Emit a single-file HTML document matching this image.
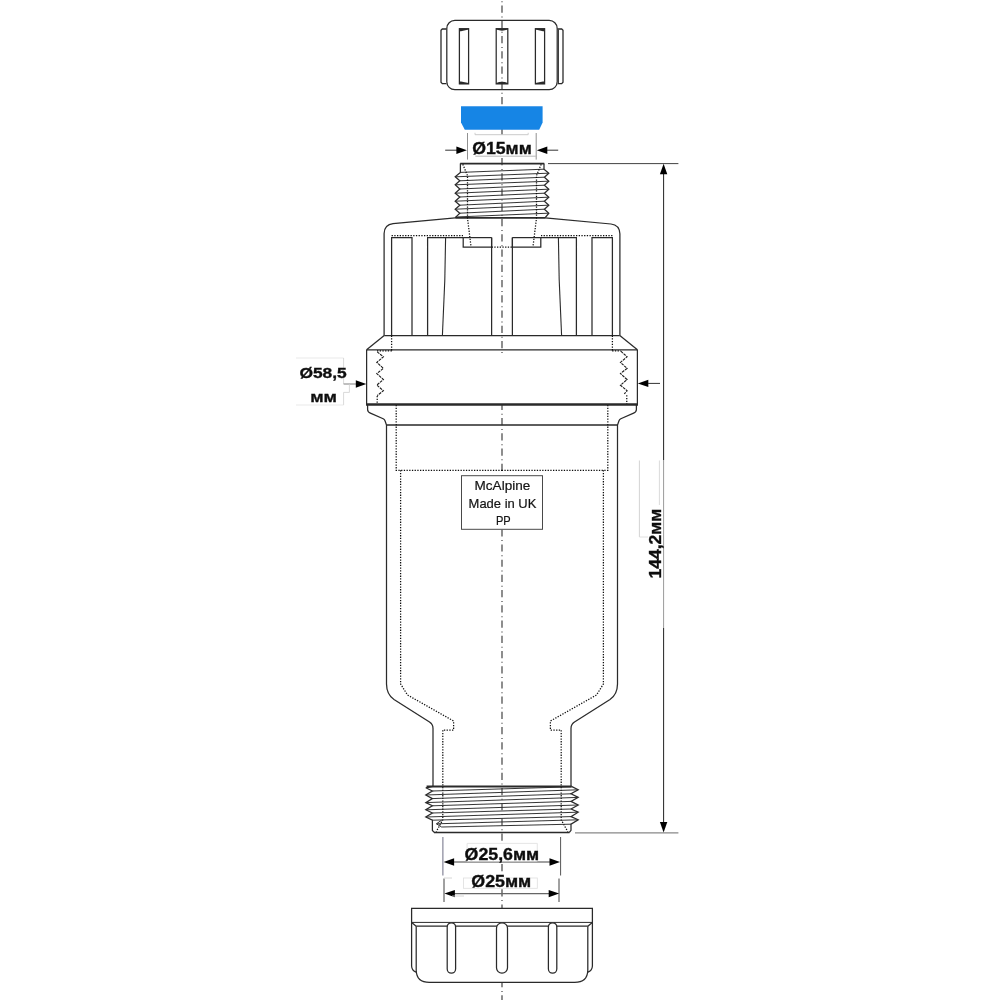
<!DOCTYPE html>
<html lang="en"><head><meta charset="utf-8"><title>Air admittance valve drawing</title>
<style>
html,body{margin:0;padding:0;background:#fff;}
body{width:1000px;height:1000px;overflow:hidden;}
svg{display:block;}
path,polygon,polyline{stroke-linejoin:miter;stroke-miterlimit:2.2;}
text{font-family:"Liberation Sans",sans-serif;fill:#111;}
</style></head>
<body>
<svg width="1000" height="1000" viewBox="0 0 1000 1000">
<defs><filter id="soft" x="0" y="0" width="1000" height="1000" filterUnits="userSpaceOnUse"><feGaussianBlur stdDeviation="0.35"/></filter></defs>
<rect width="1000" height="1000" fill="#ffffff"/>
<g filter="url(#soft)">
<line x1="502.00" y1="1.25" x2="502.00" y2="2.25" stroke="#3a3a3a" stroke-width="1.15" />
<line x1="502.00" y1="5.60" x2="502.00" y2="12.80" stroke="#3a3a3a" stroke-width="1.15" />
<line x1="502.00" y1="16.50" x2="502.00" y2="17.50" stroke="#3a3a3a" stroke-width="1.15" />
<line x1="502.00" y1="20.84" x2="502.00" y2="28.04" stroke="#3a3a3a" stroke-width="1.15" />
<line x1="502.00" y1="31.74" x2="502.00" y2="32.74" stroke="#3a3a3a" stroke-width="1.15" />
<line x1="502.00" y1="36.09" x2="502.00" y2="43.29" stroke="#3a3a3a" stroke-width="1.15" />
<line x1="502.00" y1="46.99" x2="502.00" y2="47.99" stroke="#3a3a3a" stroke-width="1.15" />
<line x1="502.00" y1="51.33" x2="502.00" y2="58.53" stroke="#3a3a3a" stroke-width="1.15" />
<line x1="502.00" y1="62.23" x2="502.00" y2="63.23" stroke="#3a3a3a" stroke-width="1.15" />
<line x1="502.00" y1="66.58" x2="502.00" y2="73.78" stroke="#3a3a3a" stroke-width="1.15" />
<line x1="502.00" y1="77.48" x2="502.00" y2="78.48" stroke="#3a3a3a" stroke-width="1.15" />
<line x1="502.00" y1="81.83" x2="502.00" y2="89.03" stroke="#3a3a3a" stroke-width="1.15" />
<line x1="502.00" y1="92.73" x2="502.00" y2="93.73" stroke="#3a3a3a" stroke-width="1.15" />
<line x1="502.00" y1="97.07" x2="502.00" y2="104.27" stroke="#3a3a3a" stroke-width="1.15" />
<line x1="502.00" y1="107.97" x2="502.00" y2="108.97" stroke="#3a3a3a" stroke-width="1.15" />
<line x1="502.00" y1="112.32" x2="502.00" y2="119.52" stroke="#3a3a3a" stroke-width="1.15" />
<line x1="502.00" y1="123.22" x2="502.00" y2="124.22" stroke="#3a3a3a" stroke-width="1.15" />
<line x1="502.00" y1="127.56" x2="502.00" y2="134.76" stroke="#3a3a3a" stroke-width="1.15" />
<line x1="502.00" y1="138.46" x2="502.00" y2="139.46" stroke="#3a3a3a" stroke-width="1.15" />
<line x1="502.00" y1="142.81" x2="502.00" y2="150.00" stroke="#3a3a3a" stroke-width="1.15" />
<line x1="502.00" y1="153.71" x2="502.00" y2="154.71" stroke="#3a3a3a" stroke-width="1.15" />
<line x1="502.00" y1="158.05" x2="502.00" y2="165.25" stroke="#3a3a3a" stroke-width="1.15" />
<line x1="502.00" y1="168.95" x2="502.00" y2="169.95" stroke="#3a3a3a" stroke-width="1.15" />
<line x1="502.00" y1="173.30" x2="502.00" y2="180.50" stroke="#3a3a3a" stroke-width="1.15" />
<line x1="502.00" y1="184.20" x2="502.00" y2="185.20" stroke="#3a3a3a" stroke-width="1.15" />
<line x1="502.00" y1="188.54" x2="502.00" y2="195.74" stroke="#3a3a3a" stroke-width="1.15" />
<line x1="502.00" y1="199.44" x2="502.00" y2="200.44" stroke="#3a3a3a" stroke-width="1.15" />
<line x1="502.00" y1="203.79" x2="502.00" y2="210.99" stroke="#3a3a3a" stroke-width="1.15" />
<line x1="502.00" y1="214.69" x2="502.00" y2="215.69" stroke="#3a3a3a" stroke-width="1.15" />
<line x1="502.00" y1="219.03" x2="502.00" y2="226.23" stroke="#3a3a3a" stroke-width="1.15" />
<line x1="502.00" y1="229.93" x2="502.00" y2="230.93" stroke="#3a3a3a" stroke-width="1.15" />
<line x1="502.00" y1="234.28" x2="502.00" y2="241.48" stroke="#3a3a3a" stroke-width="1.15" />
<line x1="502.00" y1="245.18" x2="502.00" y2="246.18" stroke="#3a3a3a" stroke-width="1.15" />
<line x1="502.00" y1="249.52" x2="502.00" y2="256.72" stroke="#3a3a3a" stroke-width="1.15" />
<line x1="502.00" y1="260.42" x2="502.00" y2="261.42" stroke="#3a3a3a" stroke-width="1.15" />
<line x1="502.00" y1="264.77" x2="502.00" y2="271.97" stroke="#3a3a3a" stroke-width="1.15" />
<line x1="502.00" y1="275.67" x2="502.00" y2="276.67" stroke="#3a3a3a" stroke-width="1.15" />
<line x1="502.00" y1="280.01" x2="502.00" y2="287.21" stroke="#3a3a3a" stroke-width="1.15" />
<line x1="502.00" y1="290.91" x2="502.00" y2="291.91" stroke="#3a3a3a" stroke-width="1.15" />
<line x1="502.00" y1="295.26" x2="502.00" y2="302.46" stroke="#3a3a3a" stroke-width="1.15" />
<line x1="502.00" y1="306.16" x2="502.00" y2="307.16" stroke="#3a3a3a" stroke-width="1.15" />
<line x1="502.00" y1="310.50" x2="502.00" y2="317.70" stroke="#3a3a3a" stroke-width="1.15" />
<line x1="502.00" y1="321.40" x2="502.00" y2="322.40" stroke="#3a3a3a" stroke-width="1.15" />
<line x1="502.00" y1="325.75" x2="502.00" y2="332.95" stroke="#3a3a3a" stroke-width="1.15" />
<line x1="502.00" y1="336.65" x2="502.00" y2="337.65" stroke="#3a3a3a" stroke-width="1.15" />
<line x1="502.00" y1="340.99" x2="502.00" y2="348.19" stroke="#3a3a3a" stroke-width="1.15" />
<line x1="502.00" y1="351.89" x2="502.00" y2="352.89" stroke="#3a3a3a" stroke-width="1.15" />
<line x1="502.00" y1="404.50" x2="502.00" y2="410.00" stroke="#3a3a3a" stroke-width="1.15" />
<line x1="502.00" y1="413.70" x2="502.00" y2="414.70" stroke="#3a3a3a" stroke-width="1.15" />
<line x1="502.00" y1="418.02" x2="502.00" y2="425.22" stroke="#3a3a3a" stroke-width="1.15" />
<line x1="502.00" y1="428.92" x2="502.00" y2="429.92" stroke="#3a3a3a" stroke-width="1.15" />
<line x1="502.00" y1="433.24" x2="502.00" y2="440.44" stroke="#3a3a3a" stroke-width="1.15" />
<line x1="502.00" y1="444.14" x2="502.00" y2="445.14" stroke="#3a3a3a" stroke-width="1.15" />
<line x1="502.00" y1="448.46" x2="502.00" y2="455.66" stroke="#3a3a3a" stroke-width="1.15" />
<line x1="502.00" y1="459.36" x2="502.00" y2="460.36" stroke="#3a3a3a" stroke-width="1.15" />
<line x1="502.00" y1="463.68" x2="502.00" y2="470.50" stroke="#3a3a3a" stroke-width="1.15" />
<line x1="502.00" y1="529.40" x2="502.00" y2="536.40" stroke="#3a3a3a" stroke-width="1.15" />
<line x1="502.00" y1="540.10" x2="502.00" y2="541.10" stroke="#3a3a3a" stroke-width="1.15" />
<line x1="502.00" y1="544.42" x2="502.00" y2="551.62" stroke="#3a3a3a" stroke-width="1.15" />
<line x1="502.00" y1="555.32" x2="502.00" y2="556.32" stroke="#3a3a3a" stroke-width="1.15" />
<line x1="502.00" y1="559.64" x2="502.00" y2="566.84" stroke="#3a3a3a" stroke-width="1.15" />
<line x1="502.00" y1="570.54" x2="502.00" y2="571.54" stroke="#3a3a3a" stroke-width="1.15" />
<line x1="502.00" y1="574.86" x2="502.00" y2="582.06" stroke="#3a3a3a" stroke-width="1.15" />
<line x1="502.00" y1="585.76" x2="502.00" y2="586.76" stroke="#3a3a3a" stroke-width="1.15" />
<line x1="502.00" y1="590.08" x2="502.00" y2="597.28" stroke="#3a3a3a" stroke-width="1.15" />
<line x1="502.00" y1="600.98" x2="502.00" y2="601.98" stroke="#3a3a3a" stroke-width="1.15" />
<line x1="502.00" y1="605.30" x2="502.00" y2="612.50" stroke="#3a3a3a" stroke-width="1.15" />
<line x1="502.00" y1="616.20" x2="502.00" y2="617.20" stroke="#3a3a3a" stroke-width="1.15" />
<line x1="502.00" y1="620.52" x2="502.00" y2="627.72" stroke="#3a3a3a" stroke-width="1.15" />
<line x1="502.00" y1="631.42" x2="502.00" y2="632.42" stroke="#3a3a3a" stroke-width="1.15" />
<line x1="502.00" y1="635.74" x2="502.00" y2="642.94" stroke="#3a3a3a" stroke-width="1.15" />
<line x1="502.00" y1="646.64" x2="502.00" y2="647.64" stroke="#3a3a3a" stroke-width="1.15" />
<line x1="502.00" y1="650.96" x2="502.00" y2="658.16" stroke="#3a3a3a" stroke-width="1.15" />
<line x1="502.00" y1="661.86" x2="502.00" y2="662.86" stroke="#3a3a3a" stroke-width="1.15" />
<line x1="502.00" y1="666.18" x2="502.00" y2="673.38" stroke="#3a3a3a" stroke-width="1.15" />
<line x1="502.00" y1="677.08" x2="502.00" y2="678.08" stroke="#3a3a3a" stroke-width="1.15" />
<line x1="502.00" y1="681.40" x2="502.00" y2="688.60" stroke="#3a3a3a" stroke-width="1.15" />
<line x1="502.00" y1="692.30" x2="502.00" y2="693.30" stroke="#3a3a3a" stroke-width="1.15" />
<line x1="502.00" y1="696.62" x2="502.00" y2="703.82" stroke="#3a3a3a" stroke-width="1.15" />
<line x1="502.00" y1="707.52" x2="502.00" y2="708.52" stroke="#3a3a3a" stroke-width="1.15" />
<line x1="502.00" y1="711.84" x2="502.00" y2="719.04" stroke="#3a3a3a" stroke-width="1.15" />
<line x1="502.00" y1="722.74" x2="502.00" y2="723.74" stroke="#3a3a3a" stroke-width="1.15" />
<line x1="502.00" y1="727.06" x2="502.00" y2="734.26" stroke="#3a3a3a" stroke-width="1.15" />
<line x1="502.00" y1="737.96" x2="502.00" y2="738.96" stroke="#3a3a3a" stroke-width="1.15" />
<line x1="502.00" y1="742.28" x2="502.00" y2="749.48" stroke="#3a3a3a" stroke-width="1.15" />
<line x1="502.00" y1="753.18" x2="502.00" y2="754.18" stroke="#3a3a3a" stroke-width="1.15" />
<line x1="502.00" y1="757.50" x2="502.00" y2="764.70" stroke="#3a3a3a" stroke-width="1.15" />
<line x1="502.00" y1="768.40" x2="502.00" y2="769.40" stroke="#3a3a3a" stroke-width="1.15" />
<line x1="502.00" y1="772.72" x2="502.00" y2="779.92" stroke="#3a3a3a" stroke-width="1.15" />
<line x1="502.00" y1="783.62" x2="502.00" y2="784.62" stroke="#3a3a3a" stroke-width="1.15" />
<line x1="502.00" y1="787.94" x2="502.00" y2="795.14" stroke="#3a3a3a" stroke-width="1.15" />
<line x1="502.00" y1="798.84" x2="502.00" y2="799.84" stroke="#3a3a3a" stroke-width="1.15" />
<line x1="502.00" y1="803.16" x2="502.00" y2="810.36" stroke="#3a3a3a" stroke-width="1.15" />
<line x1="502.00" y1="814.06" x2="502.00" y2="815.06" stroke="#3a3a3a" stroke-width="1.15" />
<line x1="502.00" y1="818.38" x2="502.00" y2="825.58" stroke="#3a3a3a" stroke-width="1.15" />
<line x1="502.00" y1="829.28" x2="502.00" y2="830.28" stroke="#3a3a3a" stroke-width="1.15" />
<line x1="502.00" y1="833.60" x2="502.00" y2="840.80" stroke="#3a3a3a" stroke-width="1.15" />
<line x1="502.00" y1="844.50" x2="502.00" y2="845.50" stroke="#3a3a3a" stroke-width="1.15" />
<line x1="502.00" y1="848.82" x2="502.00" y2="856.02" stroke="#3a3a3a" stroke-width="1.15" />
<line x1="502.00" y1="859.72" x2="502.00" y2="860.72" stroke="#3a3a3a" stroke-width="1.15" />
<line x1="502.00" y1="864.04" x2="502.00" y2="871.24" stroke="#3a3a3a" stroke-width="1.15" />
<line x1="502.00" y1="874.94" x2="502.00" y2="875.94" stroke="#3a3a3a" stroke-width="1.15" />
<line x1="502.00" y1="889.20" x2="502.00" y2="896.40" stroke="#3a3a3a" stroke-width="1.15" />
<line x1="502.00" y1="900.10" x2="502.00" y2="901.10" stroke="#3a3a3a" stroke-width="1.15" />
<line x1="502.00" y1="904.42" x2="502.00" y2="908.40" stroke="#3a3a3a" stroke-width="1.15" />
<line x1="502.00" y1="982.40" x2="502.00" y2="987.30" stroke="#3a3a3a" stroke-width="1.15" />
<line x1="502.00" y1="991.00" x2="502.00" y2="992.00" stroke="#3a3a3a" stroke-width="1.15" />
<line x1="502.00" y1="995.32" x2="502.00" y2="1000.00" stroke="#3a3a3a" stroke-width="1.15" />
<rect x="446.8" y="20.4" width="110.4" height="69.3" rx="8" ry="8" fill="none" stroke="#2a2a2a" stroke-width="1.25"/>
<path d="M446.40,29.00 L442.30,29.00 L441.00,30.30 L441.00,82.30 L442.30,83.60 L446.40,83.60" stroke="#2a2a2a" stroke-width="1.3" fill="none" />
<path d="M557.60,29.00 L561.70,29.00 L563.00,30.30 L563.00,82.30 L561.70,83.60 L557.60,83.60" stroke="#2a2a2a" stroke-width="1.3" fill="none" />
<line x1="558.40" y1="29.50" x2="558.40" y2="83.00" stroke="#2a2a2a" stroke-width="1.0" />
<rect x="459.4" y="28.7" width="9.2" height="55.2" fill="none" stroke="#2a2a2a" stroke-width="1.25"/>
<rect x="496.2" y="28.7" width="11.6" height="55.2" fill="none" stroke="#2a2a2a" stroke-width="1.25"/>
<rect x="535.4" y="28.7" width="9.2" height="55.2" fill="none" stroke="#2a2a2a" stroke-width="1.25"/>
<path d="M459.4,28.6 L468.6,28.6 L468.6,29.5 L461,31.3 L459.4,31.3 Z" fill="#2a2a2a" stroke="none"/>
<path d="M459.4,84 L468.6,84 L468.6,83.0 L461,81.4 L459.4,81.4 Z" fill="#2a2a2a" stroke="none"/>
<path d="M544.6,28.6 L535.4,28.6 L535.4,29.5 L543.0,31.3 L544.6,31.3 Z" fill="#2a2a2a" stroke="none"/>
<path d="M544.6,84 L535.4,84 L535.4,83.0 L543.0,81.4 L544.6,81.4 Z" fill="#2a2a2a" stroke="none"/>
<path d="M496.2,28.6 L507.8,28.6 L507.8,29.6 Q502,31.9 496.2,29.6 Z" fill="#2a2a2a" stroke="none"/>
<path d="M496.2,84 L507.8,84 L507.8,82.9 Q502,80.7 496.2,82.9 Z" fill="#2a2a2a" stroke="none"/>
<polygon points="461,106.2 542.6,106.2 542.6,122.6 539.2,129.8 464.8,129.8 461,122.6" fill="#1785e5"/>
<rect x="475" y="134.8" width="56" height="21.4" fill="#fff"/>
<line x1="475.00" y1="134.70" x2="528.20" y2="134.70" stroke="#c4c4c4" stroke-width="0.9" />
<line x1="475.00" y1="134.70" x2="475.00" y2="132.80" stroke="#c4c4c4" stroke-width="0.8" />
<line x1="528.20" y1="134.70" x2="528.20" y2="132.80" stroke="#c4c4c4" stroke-width="0.8" />
<line x1="475.30" y1="156.20" x2="535.70" y2="156.20" stroke="#b0b0b0" stroke-width="0.9" />
<line x1="467.50" y1="133.00" x2="467.50" y2="159.60" stroke="#858585" stroke-width="0.9" />
<line x1="536.20" y1="133.00" x2="536.20" y2="159.60" stroke="#858585" stroke-width="0.9" />
<line x1="445.20" y1="150.20" x2="458.00" y2="150.20" stroke="#333" stroke-width="1.0" />
<line x1="547.00" y1="150.20" x2="558.20" y2="150.20" stroke="#333" stroke-width="1.0" />
<polygon points="466.90,150.20 456.40,153.90 456.40,146.50" fill="#000"/>
<polygon points="536.80,150.20 547.30,146.50 547.30,153.90" fill="#000"/>
<line x1="460.20" y1="163.70" x2="544.20" y2="163.70" stroke="#2a2a2a" stroke-width="1.8" />
<path d="M460.40,163.60 L460.40,172.40 L455.20,176.80 L459.80,180.80 L455.20,184.80 L459.80,189.00 L455.20,193.20 L459.80,197.00 L455.20,201.20 L459.80,205.20 L455.20,209.20 L459.80,213.20 L455.20,217.60" stroke="#2a2a2a" stroke-width="1.25" fill="none" />
<path d="M544.00,163.60 L544.00,169.20 L548.80,173.20 L544.40,177.20 L548.80,181.20 L544.40,185.20 L548.80,189.20 L544.40,193.20 L548.80,197.20 L544.40,201.20 L548.80,205.20 L544.40,209.20 L548.80,213.20 L545.20,217.60" stroke="#2a2a2a" stroke-width="1.25" fill="none" />
<line x1="460.40" y1="172.40" x2="544.00" y2="169.20" stroke="#2a2a2a" stroke-width="0.95" />
<line x1="455.60" y1="176.80" x2="548.40" y2="173.20" stroke="#2a2a2a" stroke-width="0.95" />
<line x1="459.80" y1="180.80" x2="544.40" y2="177.20" stroke="#2a2a2a" stroke-width="0.95" />
<line x1="455.60" y1="184.80" x2="548.40" y2="181.20" stroke="#2a2a2a" stroke-width="0.95" />
<line x1="459.80" y1="189.00" x2="544.40" y2="185.20" stroke="#2a2a2a" stroke-width="0.95" />
<line x1="455.60" y1="193.20" x2="548.40" y2="189.20" stroke="#2a2a2a" stroke-width="0.95" />
<line x1="459.80" y1="197.00" x2="544.40" y2="193.20" stroke="#2a2a2a" stroke-width="0.95" />
<line x1="455.60" y1="201.20" x2="548.40" y2="197.20" stroke="#2a2a2a" stroke-width="0.95" />
<line x1="459.80" y1="205.20" x2="544.40" y2="201.20" stroke="#2a2a2a" stroke-width="0.95" />
<line x1="455.60" y1="209.20" x2="548.40" y2="205.20" stroke="#2a2a2a" stroke-width="0.95" />
<line x1="459.80" y1="213.20" x2="544.40" y2="209.20" stroke="#2a2a2a" stroke-width="0.95" />
<line x1="455.60" y1="217.00" x2="548.40" y2="213.20" stroke="#2a2a2a" stroke-width="0.95" />
<line x1="455.20" y1="217.80" x2="545.40" y2="217.80" stroke="#2a2a2a" stroke-width="1.8" />
<path d="M462.80,164.20 L467.50,175.60 L467.50,218.00 L471.00,246.60" stroke="#111" stroke-width="1.25" fill="none" stroke-dasharray="1.3 1.4"/>
<path d="M541.20,164.20 L536.50,175.60 L536.50,218.00 L533.00,246.60" stroke="#111" stroke-width="1.25" fill="none" stroke-dasharray="1.3 1.4"/>
<path d="M455.2,217.8 L393,223.7 Q384.5,224.6 384.1,233.5 L384.1,335.6" stroke="#2a2a2a" stroke-width="1.25" fill="none" />
<path d="M545.2,217.8 L611,224.0 Q619.5,224.9 619.9,233.8 L619.9,335.6" stroke="#2a2a2a" stroke-width="1.25" fill="none" />
<line x1="384.20" y1="335.60" x2="619.80" y2="335.60" stroke="#2a2a2a" stroke-width="1.25" />
<line x1="391.60" y1="235.60" x2="463.00" y2="235.60" stroke="#111" stroke-width="1.25" stroke-dasharray="1.3 1.4"/>
<line x1="612.40" y1="235.60" x2="541.00" y2="235.60" stroke="#111" stroke-width="1.25" stroke-dasharray="1.3 1.4"/>
<path d="M391.60,335.60 L391.60,237.60 L412.00,237.60 L412.00,335.60" stroke="#2a2a2a" stroke-width="1.25" fill="none" />
<path d="M612.40,335.60 L612.40,237.60 L592.00,237.60 L592.00,335.60" stroke="#2a2a2a" stroke-width="1.25" fill="none" />
<path d="M427.60,335.60 L427.60,237.60 L463.20,237.60 L463.20,247.00 L491.60,247.00 L491.60,237.60" stroke="#2a2a2a" stroke-width="1.25" fill="none" />
<path d="M576.40,335.60 L576.40,237.60 L540.80,237.60 L540.80,247.00 L512.40,247.00 L512.40,237.60" stroke="#2a2a2a" stroke-width="1.25" fill="none" />
<line x1="491.60" y1="237.60" x2="491.60" y2="335.60" stroke="#2a2a2a" stroke-width="1.25" />
<line x1="512.40" y1="237.60" x2="512.40" y2="335.60" stroke="#2a2a2a" stroke-width="1.25" />
<line x1="463.20" y1="237.60" x2="491.60" y2="237.60" stroke="#2a2a2a" stroke-width="1.25" />
<line x1="540.80" y1="237.60" x2="512.40" y2="237.60" stroke="#2a2a2a" stroke-width="1.25" />
<path d="M445.60,237.60 L444.80,280.00 L442.40,335.60" stroke="#2a2a2a" stroke-width="1.1" fill="none" />
<path d="M558.40,237.60 L559.20,280.00 L561.60,335.60" stroke="#2a2a2a" stroke-width="1.1" fill="none" />
<line x1="491.60" y1="247.00" x2="512.40" y2="247.00" stroke="#111" stroke-width="1.25" stroke-dasharray="1.3 1.4"/>
<path d="M384.20,335.60 L366.60,349.80" stroke="#2a2a2a" stroke-width="1.25" fill="none" />
<path d="M619.80,335.60 L637.40,349.80" stroke="#2a2a2a" stroke-width="1.25" fill="none" />
<line x1="366.60" y1="349.80" x2="637.40" y2="349.80" stroke="#2a2a2a" stroke-width="1.25" />
<line x1="366.60" y1="349.80" x2="366.60" y2="405.00" stroke="#2a2a2a" stroke-width="1.25" />
<line x1="637.40" y1="349.80" x2="637.40" y2="405.00" stroke="#2a2a2a" stroke-width="1.25" />
<line x1="366.00" y1="404.50" x2="638.00" y2="404.50" stroke="#2a2a2a" stroke-width="2.5" />
<line x1="391.60" y1="335.60" x2="391.60" y2="351.00" stroke="#111" stroke-width="1.25" stroke-dasharray="1.3 1.4"/>
<line x1="612.40" y1="335.60" x2="612.40" y2="351.00" stroke="#111" stroke-width="1.25" stroke-dasharray="1.3 1.4"/>
<line x1="377.00" y1="350.80" x2="391.80" y2="350.80" stroke="#111" stroke-width="1.25" stroke-dasharray="1.3 1.4"/>
<line x1="612.20" y1="350.80" x2="620.80" y2="350.80" stroke="#111" stroke-width="1.25" stroke-dasharray="1.3 1.4"/>
<path d="M377.20,351.90 L383.40,356.80 L376.80,362.40 L383.40,368.40 L376.80,373.60 L383.40,379.50 L376.80,385.10 L383.40,390.70 L377.20,395.60" stroke="#1a1a1a" stroke-width="1.1" fill="none" stroke-linejoin="round" stroke-dasharray="2.8 0.9"/>
<path d="M620.80,351.20 L627.10,356.80 L620.45,362.40 L627.10,368.35 L620.45,373.60 L627.10,379.55 L620.45,385.15 L627.10,390.75 L624.30,393.90" stroke="#1a1a1a" stroke-width="1.1" fill="none" stroke-linejoin="round" stroke-dasharray="2.8 0.9"/>
<line x1="377.20" y1="396.00" x2="377.20" y2="404.00" stroke="#111" stroke-width="1.25" stroke-dasharray="1.3 1.4"/>
<line x1="626.75" y1="395.30" x2="626.75" y2="404.00" stroke="#111" stroke-width="1.25" stroke-dasharray="1.3 1.4"/>
<path d="M367.6,404.5 L367.6,409.4 Q367.7,412 370.4,413.1 L383.2,418.8 Q384.6,419.5 385.1,421 L386.5,425 L386.5,684 Q386.6,694.5 394,699.5 L429.5,722 Q433,724.2 433,728.5 L433,786.4" stroke="#2a2a2a" stroke-width="1.25" fill="none" />
<path d="M 636.40 404.50 L 636.40 409.40 Q 636.30 412.00 633.60 413.10 L 620.80 418.80 Q 619.40 419.50 618.90 421.00 L 617.50 425.00 L 617.50 684.00 Q 617.40 694.50 610.00 699.50 L 574.50 722.00 Q 571.00 724.20 571.00 728.50 L 571.00 786.40" stroke="#2a2a2a" stroke-width="1.25" fill="none" />
<line x1="386.60" y1="425.00" x2="617.40" y2="425.00" stroke="#2a2a2a" stroke-width="1.4" />
<path d="M396.20,405.00 L396.20,470.30 L502.00,470.30" stroke="#111" stroke-width="1.25" fill="none" stroke-dasharray="1.3 1.4"/>
<path d="M607.80,405.00 L607.80,470.30 L502.00,470.30" stroke="#111" stroke-width="1.25" fill="none" stroke-dasharray="1.3 1.4"/>
<path d="M400.60,470.30 L400.60,684.00 L407.50,695.00 L453.60,721.00 L453.60,730.00 L442.80,730.00 L442.80,819.80 L436.20,831.80" stroke="#111" stroke-width="1.25" fill="none" stroke-dasharray="1.3 1.4"/>
<path d="M603.40,470.30 L603.40,684.00 L596.50,695.00 L550.40,721.00 L550.40,730.00 L561.20,730.00 L561.20,819.80 L567.80,831.80" stroke="#111" stroke-width="1.25" fill="none" stroke-dasharray="1.3 1.4"/>
<rect x="461.5" y="475.7" width="81" height="53.6" fill="#fff" stroke="#4a4a4a" stroke-width="1"/>
<text x="474.6" y="490.1" font-size="12.6" fill="#1c1c1c" stroke="#1c1c1c" stroke-width="0.2" textLength="55.6" lengthAdjust="spacingAndGlyphs">McAlpine</text>
<text x="468.6" y="507.5" font-size="12.6" fill="#1c1c1c" stroke="#1c1c1c" stroke-width="0.2" textLength="67.8" lengthAdjust="spacingAndGlyphs">Made in UK</text>
<text x="495.9" y="524.9" font-size="12.6" fill="#1c1c1c" stroke="#1c1c1c" stroke-width="0.2" textLength="14.8" lengthAdjust="spacingAndGlyphs">PP</text>
<line x1="426.60" y1="786.50" x2="571.60" y2="786.50" stroke="#2a2a2a" stroke-width="1.8" />
<path d="M432.80,786.40 L425.80,787.80 L432.40,791.00 L425.80,795.00 L432.40,798.60 L425.80,802.60 L432.40,805.80 L425.80,809.80 L432.40,813.00 L425.80,817.00 L432.40,820.20 L432.40,830.40 L434.20,832.40" stroke="#2a2a2a" stroke-width="1.25" fill="none" />
<path d="M571.40,786.40 L578.20,789.80 L571.00,793.80 L578.20,797.40 L571.00,801.40 L578.20,805.00 L571.00,809.00 L578.20,812.20 L571.00,816.60 L578.20,819.80 L571.00,824.20 L571.00,830.40 L569.40,832.40" stroke="#2a2a2a" stroke-width="1.25" fill="none" />
<line x1="434.00" y1="832.40" x2="569.60" y2="832.40" stroke="#2a2a2a" stroke-width="1.5" />
<line x1="432.40" y1="791.00" x2="571.40" y2="786.80" stroke="#2a2a2a" stroke-width="0.95" />
<line x1="426.20" y1="795.00" x2="577.80" y2="789.80" stroke="#2a2a2a" stroke-width="0.95" />
<line x1="432.40" y1="798.60" x2="571.00" y2="793.80" stroke="#2a2a2a" stroke-width="0.95" />
<line x1="426.20" y1="802.60" x2="577.80" y2="797.40" stroke="#2a2a2a" stroke-width="0.95" />
<line x1="432.40" y1="805.80" x2="571.00" y2="801.40" stroke="#2a2a2a" stroke-width="0.95" />
<line x1="426.20" y1="809.80" x2="577.80" y2="805.00" stroke="#2a2a2a" stroke-width="0.95" />
<line x1="432.40" y1="813.00" x2="571.00" y2="809.00" stroke="#2a2a2a" stroke-width="0.95" />
<line x1="426.20" y1="817.00" x2="577.80" y2="812.20" stroke="#2a2a2a" stroke-width="0.95" />
<line x1="432.40" y1="820.20" x2="571.00" y2="816.60" stroke="#2a2a2a" stroke-width="0.95" />
<path d="M441.60,820.20 L436.40,823.80 L441.60,827.00" stroke="#2a2a2a" stroke-width="1.0" fill="none" />
<line x1="436.60" y1="823.80" x2="577.80" y2="819.80" stroke="#2a2a2a" stroke-width="0.95" />
<line x1="441.60" y1="827.00" x2="571.00" y2="824.20" stroke="#2a2a2a" stroke-width="0.95" />
<line x1="442.90" y1="837.00" x2="442.90" y2="875.50" stroke="#6d6d86" stroke-width="1.0" />
<line x1="560.60" y1="837.00" x2="560.60" y2="875.50" stroke="#555" stroke-width="1.0" />
<line x1="444.00" y1="878.50" x2="444.00" y2="902.00" stroke="#444" stroke-width="1.0" />
<line x1="559.00" y1="878.50" x2="559.00" y2="902.00" stroke="#444" stroke-width="1.0" />
<line x1="452.00" y1="862.00" x2="552.00" y2="862.00" stroke="#444" stroke-width="1.1" />
<polygon points="443.60,862.00 454.10,858.30 454.10,865.70" fill="#000"/>
<polygon points="560.00,862.00 549.50,865.70 549.50,858.30" fill="#000"/>
<line x1="452.00" y1="893.60" x2="552.00" y2="893.60" stroke="#666" stroke-width="1.1" />
<polygon points="444.40,893.60 454.90,889.90 454.90,897.30" fill="#000"/>
<polygon points="559.20,893.60 548.70,897.30 548.70,889.90" fill="#000"/>
<rect x="467.1" y="843.4" width="70.2" height="18.0" fill="#fff" stroke="none"/>
<path d="M467.1,861 L467.1,843.4 L537.3,843.4 L537.3,861" fill="none" stroke="#dedede" stroke-width="0.8"/>
<rect x="463.4" y="878" width="73.9" height="10.3" fill="#fff" stroke="#dedede" stroke-width="0.8"/>
<line x1="444.00" y1="878.00" x2="452.00" y2="878.00" stroke="#ccc" stroke-width="0.8" />
<line x1="452.00" y1="896.00" x2="464.00" y2="896.00" stroke="#ccc" stroke-width="0.8" />
<path d="M416.2,926.2 L411.6,922.4 L411.6,908.4 L592.4,908.4 L592.4,922.4 L587.8,926.2" stroke="#2a2a2a" stroke-width="1.25" fill="none" />
<line x1="411.60" y1="922.40" x2="592.40" y2="922.40" stroke="#2a2a2a" stroke-width="1.0" />
<line x1="416.20" y1="926.20" x2="587.80" y2="926.20" stroke="#2a2a2a" stroke-width="1.25" />
<path d="M411.6,922.4 L411.6,966 Q411.8,970.5 416.2,972.2" stroke="#2a2a2a" stroke-width="1.25" fill="none" />
<path d="M 592.40 922.40 L 592.40 966.00 Q 592.20 970.50 587.80 972.20" stroke="#2a2a2a" stroke-width="1.25" fill="none" />
<path d="M416.2,926.2 L416.2,970.5 Q416.6,982.4 429.4,982.4 L574.6,982.4 Q587.4,982.4 587.8,970.5 L587.8,926.2" stroke="#2a2a2a" stroke-width="1.25" fill="none" />
<rect x="447.2" y="922.8" width="8.4" height="50.4" rx="4.2" ry="4.2" fill="#fff" stroke="#2a2a2a" stroke-width="1.25"/>
<rect x="496.5" y="922.8" width="11.0" height="50.4" rx="5.5" ry="5.5" fill="#fff" stroke="#2a2a2a" stroke-width="1.25"/>
<rect x="548.4" y="922.8" width="8.4" height="50.4" rx="4.2" ry="4.2" fill="#fff" stroke="#2a2a2a" stroke-width="1.25"/>
<line x1="296.00" y1="358.00" x2="343.60" y2="358.00" stroke="#e3e3e3" stroke-width="0.8" />
<line x1="343.60" y1="358.00" x2="343.60" y2="384.00" stroke="#cfcfcf" stroke-width="0.8" />
<line x1="343.60" y1="384.00" x2="357.00" y2="384.00" stroke="#8a8a8a" stroke-width="1.1" />
<line x1="349.40" y1="384.00" x2="349.40" y2="392.40" stroke="#cfcfcf" stroke-width="0.8" />
<line x1="343.60" y1="392.40" x2="349.40" y2="392.40" stroke="#cfcfcf" stroke-width="0.8" />
<line x1="343.60" y1="392.40" x2="343.60" y2="405.00" stroke="#cfcfcf" stroke-width="0.8" />
<line x1="296.00" y1="405.00" x2="343.60" y2="405.00" stroke="#e3e3e3" stroke-width="0.8" />
<polygon points="366.30,384.00 355.80,387.70 355.80,380.30" fill="#000"/>
<polygon points="637.80,383.40 648.30,379.70 648.30,387.10" fill="#000"/>
<line x1="648.00" y1="383.40" x2="660.00" y2="383.40" stroke="#333" stroke-width="1.0" />
<line x1="548.00" y1="163.60" x2="678.40" y2="163.60" stroke="#444" stroke-width="1.0" />
<line x1="575.00" y1="832.80" x2="678.40" y2="832.80" stroke="#888" stroke-width="1.3" />
<line x1="663.60" y1="172.00" x2="663.60" y2="460.00" stroke="#222" stroke-width="1.0" />
<line x1="663.60" y1="460.00" x2="663.60" y2="628.00" stroke="#9a9a9a" stroke-width="1.0" />
<line x1="663.60" y1="628.00" x2="663.60" y2="824.00" stroke="#222" stroke-width="1.0" />
<polygon points="663.60,163.80 667.30,174.30 659.90,174.30" fill="#000"/>
<polygon points="663.60,832.40 659.90,821.90 667.30,821.90" fill="#000"/>
<line x1="639.40" y1="460.50" x2="639.40" y2="537.00" stroke="#c8c8c8" stroke-width="0.8" />
<line x1="639.40" y1="537.00" x2="648.00" y2="537.00" stroke="#d8d8d8" stroke-width="0.8" />
<line x1="659.40" y1="460.50" x2="659.40" y2="505.00" stroke="#d0d0d0" stroke-width="0.8" />
<text x="472.2" y="154.2" font-size="16.3" font-weight="bold" stroke="#111" stroke-width="0.35" textLength="59.6" lengthAdjust="spacingAndGlyphs">Ø15мм</text>
<text x="464.6" y="860.1" font-size="16.3" font-weight="bold" stroke="#111" stroke-width="0.35" textLength="74.6" lengthAdjust="spacingAndGlyphs">Ø25,6мм</text>
<text x="471.3" y="887.1" font-size="16.3" font-weight="bold" stroke="#111" stroke-width="0.35" textLength="60.0" lengthAdjust="spacingAndGlyphs">Ø25мм</text>
<text x="299.4" y="377.7" font-size="15.5" font-weight="bold" stroke="#111" stroke-width="0.35" textLength="47.4" lengthAdjust="spacingAndGlyphs">Ø58,5</text>
<text x="310.2" y="401.5" font-size="15.5" font-weight="bold" stroke="#111" stroke-width="0.35" textLength="26.8" lengthAdjust="spacingAndGlyphs">мм</text>
<text transform="translate(660.7,578.6) rotate(-90)" x="0" y="0" font-size="16.8" font-weight="bold" stroke="#111" stroke-width="0.35" textLength="69.8" lengthAdjust="spacingAndGlyphs">144,2мм</text>
</g>
</svg>
</body></html>
